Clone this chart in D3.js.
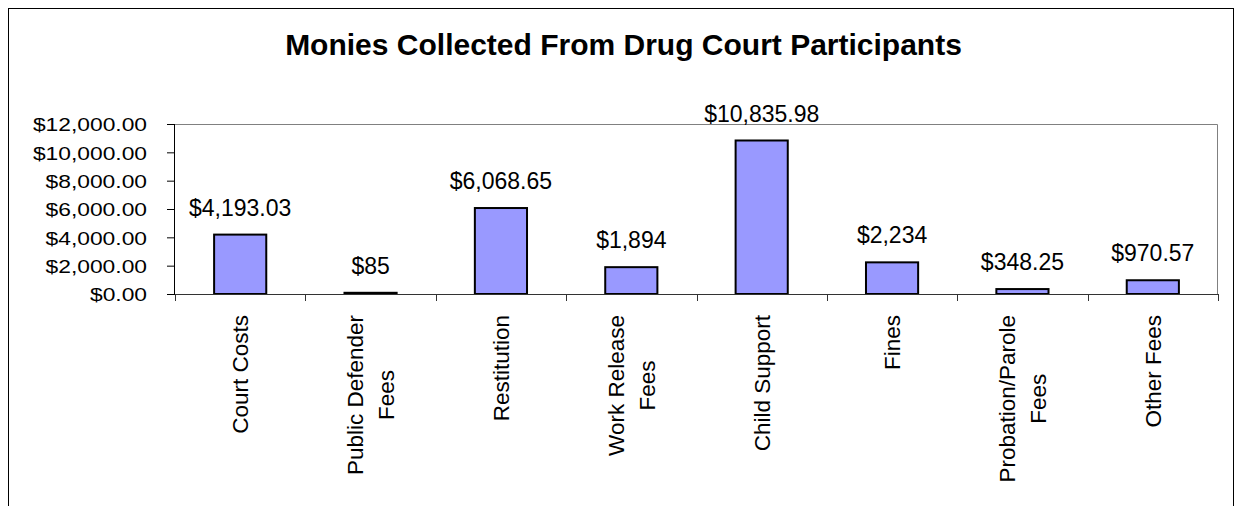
<!DOCTYPE html>
<html>
<head>
<meta charset="utf-8">
<script src="https://cdn.jsdelivr.net/npm/d3@7"></script>
<style>
  body { margin: 0; background: #fff; }
  text { font-family: "Liberation Sans", Arial, sans-serif; fill: #000; }
</style>
</head>
<body>
<svg id="chart"></svg>
<script>
// Chart data
var categories = [
  ["Court Costs"],
  ["Public Defender", "Fees"],
  ["Restitution"],
  ["Work Release", "Fees"],
  ["Child Support"],
  ["Fines"],
  ["Probation/Parole", "Fees"],
  ["Other Fees"]
];
var amounts = [4193.03, 85, 6068.65, 1894, 10835.98, 2234, 348.25, 970.57];
var yTicks = [0, 2000, 4000, 6000, 8000, 10000, 12000];
var title = "Monies Collected From Drug Court Participants";

// Dimensions
var W = 1236, H = 506;
var margin = {top: 124, right: 18, bottom: 212, left: 175},
    width = W - margin.left - margin.right,
    height = H - margin.top - margin.bottom;

var svg = d3.select("#chart")
    .attr("width", W)
    .attr("height", H);

// Outer chart border
svg.append("rect")
    .attr("x", 8.5)
    .attr("y", 8.5)
    .attr("width", 1225)
    .attr("height", 530)
    .style("fill", "none")
    .style("stroke", "#000")
    .style("stroke-width", 1);

// Title
svg.append("text")
    .attr("x", 623.5)
    .attr("y", 55)
    .attr("text-anchor", "middle")
    .style("font-size", "30px")
    .style("font-weight", "bold")
    .text(title);

var g = svg.append("g")
    .attr("transform", "translate(" + margin.left + "," + margin.top + ")");

// Scales
var x = d3.scaleBand()
    .domain(d3.range(categories.length))
    .range([0, width])
    .paddingInner(0.6)
    .paddingOuter(0.3);

var y = d3.scaleLinear()
    .domain([0, 12000])
    .range([height, 0]);

// Plot area frame (top and right are grey)
g.append("path")
    .attr("d", "M0,0.5H" + (width - 0.5) + "V" + height)
    .style("fill", "none")
    .style("stroke", "#808080")
    .style("stroke-width", 1);

// Bars
g.selectAll(".bar")
    .data(amounts)
    .enter()
    .append("rect")
    .attr("class", "bar")
    .attr("x", function(d, i) { return x(i); })
    .attr("y", function(d) { return y(d); })
    .attr("width", x.bandwidth())
    .attr("height", function(d) { return height - y(d); })
    .style("fill", "#9999ff")
    .style("stroke", "#000")
    .style("stroke-width", 2);

// Value labels
var fmtDec = d3.format("$,.2f"), fmtInt = d3.format("$,");
g.selectAll(".val")
    .data(amounts)
    .enter()
    .append("text")
    .attr("class", "val")
    .attr("x", function(d, i) { return x(i) + x.bandwidth() / 2; })
    .attr("y", function(d) { return y(d) - 19; })
    .attr("text-anchor", "middle")
    .style("font-size", "23px")
    .text(function(d) { return Number.isInteger(d) ? fmtInt(d) : fmtDec(d); });

// Y axis
var yAxis = g.append("g")
    .call(d3.axisLeft(y).tickValues(yTicks).tickFormat(d3.format("$,.2f")).tickSize(8).tickPadding(20));
yAxis.select(".domain").attr("d", "M-0.5," + height + "V0").style("stroke", "#000");
yAxis.selectAll(".tick line").style("stroke", "#000");
yAxis.selectAll("text")
    .style("font-size", "19px")
    .attr("dy", "0.36em")
    .each(function() {
      var len = this.getComputedTextLength();
      d3.select(this).attr("textLength", len * 1.2).attr("lengthAdjust", "spacingAndGlyphs");
    });

// X axis baseline with ticks between categories
var step = width / categories.length;
var xAxis = g.append("g").attr("transform", "translate(0," + height + ")");
xAxis.append("line")
    .attr("x1", 0).attr("x2", width)
    .attr("y1", 0.5).attr("y2", 0.5)
    .style("stroke", "#333");
xAxis.selectAll(".xtick")
    .data(d3.range(categories.length + 1))
    .enter()
    .append("line")
    .attr("class", "xtick")
    .attr("x1", function(d) { return Math.round(d * step) + 0.5; })
    .attr("x2", function(d) { return Math.round(d * step) + 0.5; })
    .attr("y1", 0).attr("y2", 7)
    .style("stroke", "#333");

// Rotated category labels (multi-line, centered lines, top aligned)
var lineGap = 31, labelTop = 21;
categories.forEach(function(lines, i) {
  var cx = x(i) + x.bandwidth() / 2;
  var lab = xAxis.append("g");
  var texts = lines.map(function(t, j) {
    return lab.append("text")
        .attr("text-anchor", "middle")
        .style("font-size", "22.5px")
        .text(t);
  });
  var maxLen = d3.max(texts, function(t) { return t.node().getComputedTextLength(); });
  texts.forEach(function(t, j) {
    var bx = cx + 8 + (j - (lines.length - 1) / 2) * lineGap;
    var by = labelTop + maxLen / 2;
    t.attr("transform", "translate(" + bx + "," + by + ") rotate(-90)");
  });
});
</script>
</body>
</html>
